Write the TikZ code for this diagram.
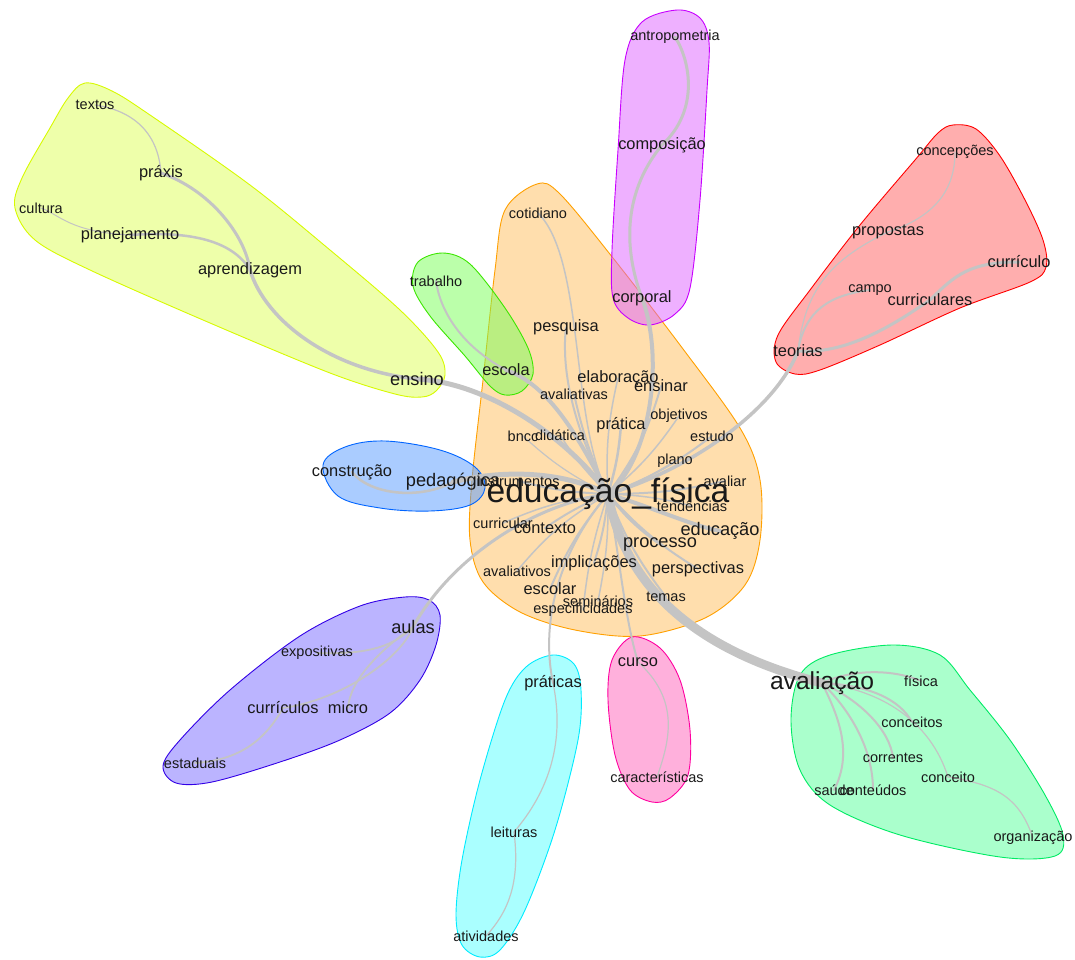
\documentclass[tikz,border=0pt]{standalone}
\usepackage{fontspec}
\setmainfont{Liberation Sans}

% halo outline and fill colours
\definecolor{oLine}{RGB}{255,160,0}   \definecolor{oFill}{RGB}{255,189,91}
\definecolor{yLine}{RGB}{215,250,0}   \definecolor{yFill}{RGB}{221,255,85}
\definecolor{mLine}{RGB}{200,0,255}   \definecolor{mFill}{RGB}{221,97,255}
\definecolor{rLine}{RGB}{255,0,0}     \definecolor{rFill}{RGB}{255,93,93}
\definecolor{gLine}{RGB}{60,230,0}    \definecolor{gFill}{RGB}{119,255,85}
\definecolor{bLine}{RGB}{0,100,255}   \definecolor{bFill}{RGB}{85,153,255}
\definecolor{pLine}{RGB}{50,0,230}    \definecolor{pFill}{RGB}{119,105,255}
\definecolor{cLine}{RGB}{0,235,255}   \definecolor{cFill}{RGB}{85,255,255}
\definecolor{kLine}{RGB}{255,0,160}   \definecolor{kFill}{RGB}{255,97,185}
\definecolor{tLine}{RGB}{0,235,100}   \definecolor{tFill}{RGB}{85,255,153}
\definecolor{edgegray}{RGB}{196,196,196}
\definecolor{wordcol}{RGB}{25,25,25}

\pgfdeclarelayer{halo}
\pgfdeclarelayer{edge}
\pgfsetlayers{halo,edge,main}

\tikzset{
  halo/.style 2 args={draw=#1, fill=#2, fill opacity=0.5, line width=0.9pt},
  ed/.style={draw=edgegray, line width=#1, line cap=round},
  word/.style={inner sep=0pt, text=wordcol},
  fs/.style={word, font=\fontsize{14.5}{15}\selectfont},
  fm/.style={word, font=\fontsize{16.4}{17}\selectfont},
  fl/.style={word, font=\fontsize{18.2}{19}\selectfont},
  fxl/.style={word, font=\fontsize{24.6}{25}\selectfont},
  fxxl/.style={word, font=\fontsize{33.6}{34}\selectfont},
}

\begin{document}
\begin{tikzpicture}[x=1pt, y=-1pt]
\useasboundingbox (0,0) rectangle (1075,960);

% ---------------- words ----------------
\node[fxxl] (efis) at (608,494) {educação\_física};
% purple group
\node[fs] (antrop) at (675,37) {antropometria};
\node[fm] (compos) at (662,145) {composição};
\node[fm] (corporal) at (642,298) {corporal};
% yellow group
\node[fs] (textos) at (95,105) {textos};
\node[fm] (praxis) at (161,173) {práxis};
\node[fs] (cultura) at (41,208) {cultura};
\node[fm] (planej) at (130,235) {planejamento};
\node[fm] (aprend) at (250,270) {aprendizagem};
\node[fl] (ensino) at (417,379) {ensino};
% green group
\node[fs] (trabalho) at (436,281) {trabalho};
\node[fm] (escola) at (506,370) {escola};
% orange group
\node[fs] (cotid) at (538,213) {cotidiano};
\node[fm] (pesquisa) at (566,327) {pesquisa};
\node[fm] (elabor) at (618,378) {elaboração};
\node[fm] (ensinar) at (661,386) {ensinar};
\node[fs] (avaltivas) at (574,394) {avaliativas};
\node[fm] (pratica) at (621,425) {prática};
\node[fs] (objet) at (679,416) {objetivos};
\node[fs] (bncc) at (523,436) {bncc};
\node[fs] (didat) at (560,435) {didática};
\node[fs] (estudo) at (712,436) {estudo};
\node[fs] (plano) at (675,461) {plano};
\node[fs] (avaliar) at (725,481) {avaliar};
\node[fl] (pedag) at (453,482) {pedagógica};
\node[fs] (instr) at (518,481) {instrumentos};
\node[fs] (tend) at (692,506) {tendências};
\node[fs] (curric) at (503,523) {curricular};
\node[fm] (contexto) at (545,528) {contexto};
\node[fl] (educ) at (720,531) {educação};
\node[fl] (processo) at (660,544) {processo};
\node[fm] (implic) at (594,563) {implicações};
\node[fm] (perspec) at (698,569) {perspectivas};
\node[fs] (avaltivos) at (517,571) {avaliativos};
\node[fm] (escolar) at (550,589) {escolar};
\node[fs] (semin) at (598,601) {seminários};
\node[fs] (temas) at (666,597) {temas};
\node[fs] (especif) at (583,610) {especificidades};
% blue group
\node[fm] (constr) at (352,472) {construção};
% violet group
\node[fl] (aulas) at (413,627) {aulas};
\node[fs] (expos) at (317,653) {expositivas};
\node[fm] (curriculos) at (283,708) {currículos};
\node[fm] (micro) at (348,708) {micro};
\node[fs] (estaduais) at (195,763) {estaduais};
% cyan group
\node[fm] (praticas) at (553,683) {práticas};
\node[fs] (leituras) at (514,832) {leituras};
\node[fs] (ativid) at (486,936) {atividades};
% pink group
\node[fm] (curso) at (638,662) {curso};
\node[fs] (caract) at (657,777) {características};
% mint group
\node[fxl] (avaliacao) at (822,683) {avaliação};
\node[fs] (fisica) at (921,681) {física};
\node[fs] (conceitos) at (912,722) {conceitos};
\node[fs] (correntes) at (893,758) {correntes};
\node[fs] (conceito) at (948,777) {conceito};
\node[fs] (saude) at (834,790) {saúde};
\node[fs] (conteudos) at (873,790) {conteúdos};
\node[fs] (organiz) at (1033,838) {organização};
% red group
\node[fs] (concep) at (955,152) {concepções};
\node[fm] (propostas) at (888,232) {propostas};
\node[fm] (curriculo) at (1019,262) {currículo};
\node[fs] (campo) at (870,290) {campo};
\node[fm] (curriculares) at (930,300) {curriculares};
\node[fm] (teorias) at (798,351) {teorias};

% ---------------- halos ----------------
\begin{pgfonlayer}{halo}
\draw[halo={oLine}{oFill}] plot[smooth cycle, tension=0.55] coordinates {
  (537,184) (560,194) (613,258) (680,345) (740,428) (760,480) (760,540)
  (745,585) (705,618) (640,636) (575,630) (520,612) (483,582) (470,540)
  (472,480) (483,380) (495,270) (505,210)};
\draw[halo={yLine}{yFill}] plot[smooth cycle, tension=0.55] coordinates {
  (85,83) (112,91) (150,115) (250,185) (330,250) (400,310) (438,352)
  (445,375) (436,391) (422,397) (395,394) (330,373) (210,323) (90,270)
  (35,240) (15,208) (22,178) (50,128) (68,98)};
\draw[halo={mLine}{mFill}] plot[smooth cycle, tension=0.55] coordinates {
  (677,10) (700,18) (709,42) (707,90) (700,200) (690,288) (675,314)
  (650,325) (628,318) (613,298) (612,250) (618,150) (625,60) (642,22)};
\draw[halo={rLine}{rFill}] plot[smooth cycle, tension=0.55] coordinates {
  (953,125) (976,129) (1000,156) (1025,200) (1043,240) (1046,267)
  (1030,282) (960,308) (880,345) (820,370) (795,374) (776,362) (778,335)
  (810,290) (860,225) (915,160) (938,133)};
\draw[halo={gLine}{gFill}] plot[smooth cycle, tension=0.55] coordinates {
  (443,253) (470,264) (505,308) (528,348) (533,374) (522,391) (505,395)
  (490,386) (465,356) (430,316) (413,286) (418,262)};
\draw[halo={bLine}{bFill}] plot[smooth cycle, tension=0.6] coordinates {
  (323,465) (345,447) (385,441) (440,450) (475,467) (485,488) (470,505)
  (430,511) (380,508) (338,496)};
\draw[halo={pLine}{pFill}] plot[smooth cycle, tension=0.55] coordinates {
  (440,615) (436,645) (420,680) (390,713) (340,740) (280,762) (212,782)
  (176,783) (163,766) (180,740) (230,690) (300,636) (360,606) (405,597)
  (429,600)};
\draw[halo={cLine}{cFill}] plot[smooth cycle, tension=0.55] coordinates {
  (553,655) (574,664) (581,690) (578,740) (555,830) (525,910) (500,950)
  (480,957) (462,945) (456,915) (462,860) (480,780) (505,700) (526,667)};
\draw[halo={kLine}{kFill}] plot[smooth cycle, tension=0.55] coordinates {
  (632,637) (660,648) (680,680) (690,730) (688,775) (670,798) (652,802)
  (630,790) (615,755) (608,700) (612,660)};
\draw[halo={tLine}{tFill}] plot[smooth cycle, tension=0.55] coordinates {
  (893,645) (940,655) (970,690) (1010,740) (1045,795) (1063,835) (1055,856)
  (1000,857) (900,835) (830,805) (800,770) (791,720) (800,675) (830,655)};
\end{pgfonlayer}

% ---------------- edges ----------------
\begin{pgfonlayer}{edge}
% main branches from the hub word
\draw[ed=9] (efis.center) .. controls (625,590) and (700,652) .. (avaliacao.center);
\draw[ed=5] (efis.center) .. controls (570,440) and (490,383) .. (ensino.center);
\draw[ed=4] (efis.center) .. controls (580,440) and (550,385) .. (escola.center);
\draw[ed=4] (efis.center) .. controls (650,460) and (665,360) .. (corporal.center);
\draw[ed=5] (efis.center) .. controls (560,470) and (500,470) .. (pedag.center);
\draw[ed=3] (efis.center) .. controls (530,505) and (450,560) .. (aulas.center);
\draw[ed=3.5] (efis.center) .. controls (690,470) and (775,410) .. (teorias.center);
\draw[ed=1.5] (efis.center) .. controls (570,420) and (585,260) .. (cotid.center);
\draw[ed=2] (efis.center) .. controls (560,550) and (540,620) .. (praticas.center);
\draw[ed=2] (efis.center) .. controls (620,560) and (625,620) .. (curso.center);
% words inside the hub group
\draw[ed=2] (efis.center) .. controls (580,440) and (560,380) .. (pesquisa.center);
\draw[ed=1.5] (efis.center) to[bend left=8] (elabor.center);
\draw[ed=2] (efis.center) to[bend right=10] (ensinar.center);
\draw[ed=2] (efis.center) to[bend left=6] (avaltivas.center);
\draw[ed=2.5] (efis.center) to[bend right=6] (pratica.center);
\draw[ed=1.5] (efis.center) to[bend right=8] (objet.center);
\draw[ed=1.2] (efis.center) to[bend left=8] (bncc.center);
\draw[ed=1.5] (efis.center) to[bend left=6] (didat.center);
\draw[ed=2] (efis.center) to[bend right=8] (estudo.center);
\draw[ed=1.5] (efis.center) to[bend right=6] (plano.center);
\draw[ed=2] (efis.center) to[bend right=6] (avaliar.center);
\draw[ed=2] (efis.center) to[bend left=6] (instr.center);
\draw[ed=1.5] (efis.center) to[bend left=6] (tend.center);
\draw[ed=1.5] (efis.center) to[bend right=8] (curric.center);
\draw[ed=2] (efis.center) to[bend right=6] (contexto.center);
\draw[ed=4] (efis.center) .. controls (660,510) and (690,525) .. (educ.center);
\draw[ed=3] (efis.center) to[bend right=8] (processo.center);
\draw[ed=2] (efis.center) to[bend left=6] (implic.center);
\draw[ed=2] (efis.center) to[bend right=8] (perspec.center);
\draw[ed=1.5] (efis.center) to[bend right=10] (avaltivos.center);
\draw[ed=2] (efis.center) to[bend right=8] (escolar.center);
\draw[ed=1.5] (efis.center) to[bend left=6] (semin.center);
\draw[ed=2] (efis.center) to[bend right=8] (temas.center);
\draw[ed=1.5] (efis.center) to[bend right=6] (especif.center);
% yellow branch
\draw[ed=3.5] (ensino.center) .. controls (330,370) and (265,320) .. (aprend.center);
\draw[ed=3] (aprend.center) .. controls (245,235) and (210,190) .. (praxis.center);
\draw[ed=1.2] (praxis.center) .. controls (158,130) and (130,110) .. (textos.center);
\draw[ed=2.5] (planej.center) .. controls (200,230) and (235,245) .. (aprend.center);
\draw[ed=1] (cultura.center) .. controls (60,215) and (70,232) .. (planej.center);
% green branch
\draw[ed=2] (escola.center) .. controls (460,345) and (440,310) .. (trabalho.center);
% purple branch
\draw[ed=3] (corporal.center) .. controls (622,245) and (625,190) .. (compos.center);
\draw[ed=3] (compos.center) .. controls (700,110) and (690,60) .. (antrop.center);
% blue branch
\draw[ed=2.5] (pedag.center) .. controls (420,500) and (370,495) .. (constr.center);
% violet branch
\draw[ed=1.8] (aulas.center) .. controls (395,645) and (370,655) .. (expos.center);
\draw[ed=1.8] (aulas.center) .. controls (380,650) and (350,680) .. (micro.center);
\draw[ed=1.8] (aulas.center) .. controls (400,660) and (340,700) .. (curriculos.center);
\draw[ed=1.8] (curriculos.center) .. controls (265,740) and (240,760) .. (estaduais.center);
% red branch
\draw[ed=3] (teorias.center) .. controls (850,355) and (900,320) .. (curriculares.center);
\draw[ed=3] (curriculares.center) .. controls (955,275) and (970,262) .. (curriculo.center);
\draw[ed=2] (teorias.center) .. controls (805,310) and (830,295) .. (campo.center);
\draw[ed=1.2] (teorias.center) .. controls (805,290) and (830,260) .. (propostas.center);
\draw[ed=1.2] (propostas.center) .. controls (940,215) and (955,185) .. (concep.center);
% cyan branch
\draw[ed=1.2] (praticas.center) .. controls (565,740) and (550,790) .. (leituras.center);
\draw[ed=1.2] (leituras.center) .. controls (520,880) and (510,910) .. (ativid.center);
% pink branch
\draw[ed=1.2] (curso.center) .. controls (680,700) and (670,740) .. (caract.center);
% mint branch
\draw[ed=2] (avaliacao.center) .. controls (850,670) and (890,668) .. (fisica.center);
\draw[ed=2] (avaliacao.center) .. controls (870,685) and (900,700) .. (conceitos.center);
\draw[ed=2] (avaliacao.center) .. controls (860,700) and (890,730) .. (correntes.center);
\draw[ed=2] (avaliacao.center) .. controls (840,700) and (873,740) .. (conteudos.center);
\draw[ed=2] (avaliacao.center) .. controls (835,710) and (855,750) .. (saude.center);
\draw[ed=1.2] (avaliacao.center) .. controls (880,690) and (930,720) .. (conceito.center);
\draw[ed=1.2] (conceito.center) .. controls (1000,785) and (1020,800) .. (organiz.center);
\end{pgfonlayer}
\end{tikzpicture}
\end{document}
